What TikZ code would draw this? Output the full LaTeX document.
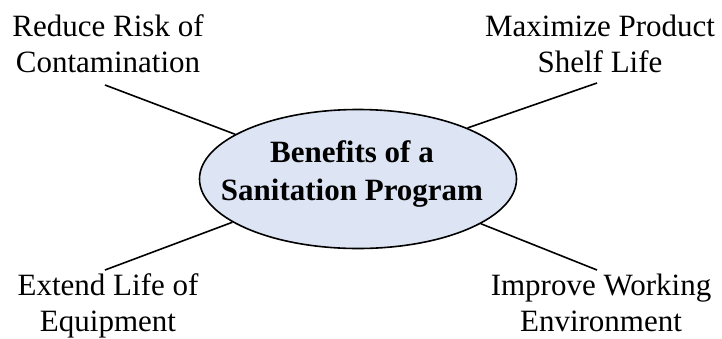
\documentclass[tikz,border=0pt]{standalone}
\usepackage{fontspec}
\setmainfont{Liberation Serif}
\usepackage{tikz}
\usetikzlibrary{shapes.geometric}
\definecolor{paleblue}{RGB}{221,229,244}

\begin{document}
\begin{tikzpicture}[x=1pt, y=-1pt, line width=1.6pt,
    leaf/.style={anchor=north, inner sep=0pt, align=center,
      font=\fontsize{31}{36}\selectfont},
    hub/.style={ellipse, draw, fill=paleblue, minimum width=317pt,
      minimum height=139pt, inner sep=0pt}]
  \useasboundingbox (0,0) rectangle (722,338);
  \node[hub] (hub) at (358,179) {};
  \node[inner sep=0pt, align=center, font=\fontsize{31}{38}\selectfont\bfseries]
    (title) at (352,174) {Benefits of a\\Sanitation Program};
  % the four benefits round the hub
  \node[leaf] (risk) at (108,14) {Reduce Risk of\\Contamination};
  \node[leaf] (shelf) at (600,14) {Maximize Product\\Shelf Life};
  \node[leaf] (equip) at (108,273) {Extend Life of\\Equipment};
  \node[leaf] (work) at (601,273) {Improve Working\\Environment};
  \coordinate (risk end) at (105,85);
  \coordinate (shelf end) at (597,83);
  \coordinate (equip end) at (105,270);
  \coordinate (work end) at (597,270);
  \draw (risk end) -- (hub.160);
  \draw (shelf end) -- (hub.25);
  \draw (equip end) -- (hub.199);
  \draw (work end) -- (hub.340);
\end{tikzpicture}
\end{document}
